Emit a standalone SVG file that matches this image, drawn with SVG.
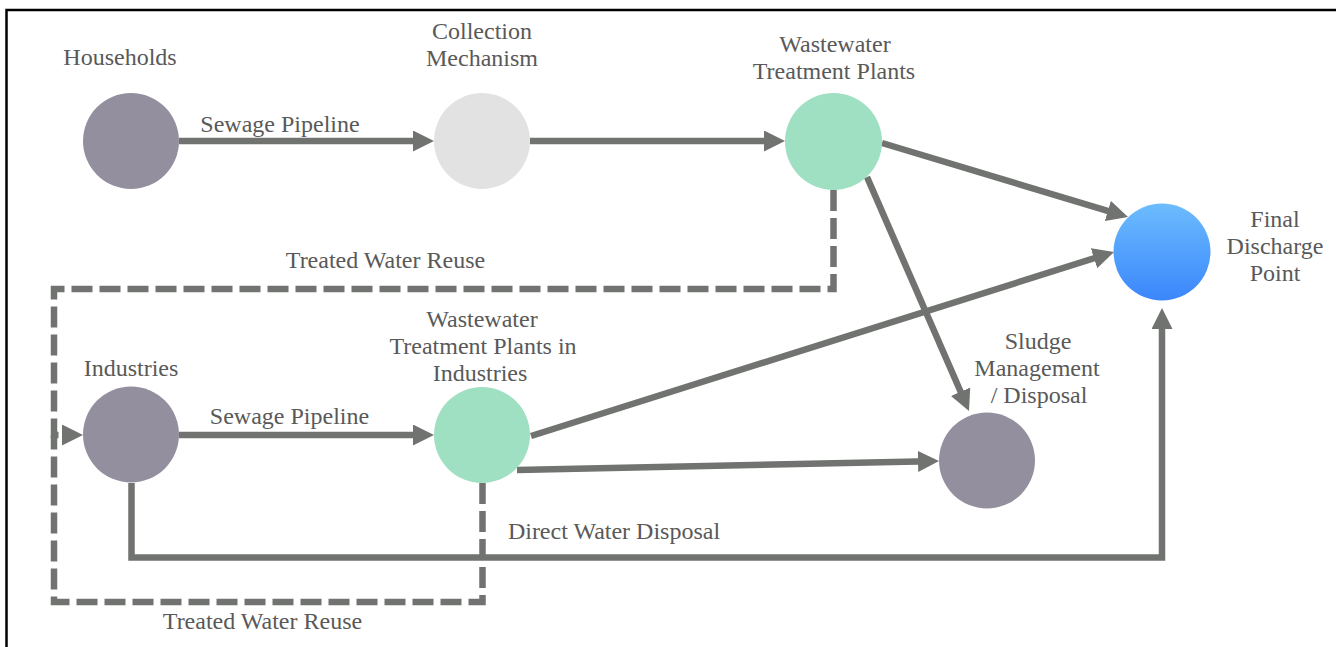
<svg xmlns="http://www.w3.org/2000/svg" width="1336" height="647" viewBox="0 0 1336 647">
<style>
  .lbl { font-family: "Liberation Serif", "Times New Roman", serif; font-size: 24px; fill: #595959; text-anchor: middle; }
  .edge { fill: none; stroke: #717370; stroke-width: 6.5; }
  .dash { fill: none; stroke: #717370; stroke-width: 6.5; stroke-dasharray: 21 7; }
  .purple { fill: #938f9e; }
  .grey { fill: #e2e2e2; }
  .green { fill: #9fe0c2; }
</style>
<defs>
  <marker id="arrow" markerUnits="userSpaceOnUse" markerWidth="22" markerHeight="22" viewBox="0 0 22 22" refX="11" refY="10.5" orient="auto">
    <path d="M0,0 L21,10.5 L0,21 Z" fill="#717370"/>
  </marker>
  <linearGradient id="blueGrad" x1="0" y1="0" x2="0" y2="1">
    <stop offset="0" stop-color="#6cbcfd"/>
    <stop offset="1" stop-color="#3a86fc"/>
  </linearGradient>
</defs>
<rect width="1336" height="647" fill="#ffffff"/>
<rect x="6.5" y="10" width="1400" height="700" fill="none" stroke="#000000" stroke-width="2.5"/>

<g id="connectors">
  <path class="dash" d="M833.5,190 V289 H54 V435 H73" marker-end="url(#arrow)"/>
  <path class="dash" d="M482.5,483 V602 H54 V435"/>
  <path class="edge" d="M179,141 H424" marker-end="url(#arrow)"/>
  <path class="edge" d="M530,141 H775" marker-end="url(#arrow)"/>
  <path class="edge" d="M882,143 L1118.4,214.1" marker-end="url(#arrow)"/>
  <path class="edge" d="M867,177 L965,401.8" marker-end="url(#arrow)"/>
  <path class="edge" d="M531,436 L1104.5,255" marker-end="url(#arrow)"/>
  <path class="edge" d="M517,470 L929,461.2" marker-end="url(#arrow)"/>
  <path class="edge" d="M179,435 H424" marker-end="url(#arrow)"/>
  <path class="edge" d="M131.5,483 V557.5 H1162 V318" marker-end="url(#arrow)"/>
  <text class="lbl" x="280" y="132">Sewage Pipeline</text>
  <text class="lbl" x="289.5" y="424">Sewage Pipeline</text>
  <text class="lbl" x="385.5" y="268">Treated Water Reuse</text>
  <text class="lbl" x="262.5" y="629">Treated Water Reuse</text>
  <text class="lbl" x="614" y="539">Direct Water Disposal</text>
</g>

<g id="households">
  <circle class="purple" cx="131" cy="141" r="48"/>
  <text class="lbl" x="120" y="65">Households</text>
</g>
<g id="collection">
  <circle class="grey" cx="482" cy="141" r="48"/>
  <text class="lbl" x="482" y="39">Collection</text>
  <text class="lbl" x="482" y="66">Mechanism</text>
</g>
<g id="wwtp">
  <circle class="green" cx="833.5" cy="141.5" r="48.5"/>
  <text class="lbl" x="835" y="52">Wastewater</text>
  <text class="lbl" x="834" y="79">Treatment Plants</text>
</g>
<g id="final">
  <circle fill="url(#blueGrad)" cx="1162" cy="252" r="48.5"/>
  <text class="lbl" x="1275" y="227">Final</text>
  <text class="lbl" x="1275" y="254">Discharge</text>
  <text class="lbl" x="1275" y="281">Point</text>
</g>
<g id="industries">
  <circle class="purple" cx="131" cy="434.5" r="48"/>
  <text class="lbl" x="131" y="376">Industries</text>
</g>
<g id="wwtp-industries">
  <circle class="green" cx="482" cy="435" r="48"/>
  <text class="lbl" x="482" y="327">Wastewater</text>
  <text class="lbl" x="483" y="354">Treatment Plants in</text>
  <text class="lbl" x="480" y="381">Industries</text>
</g>
<g id="sludge">
  <circle class="purple" cx="987" cy="460.5" r="48"/>
  <text class="lbl" x="1038" y="349">Sludge</text>
  <text class="lbl" x="1037" y="376">Management</text>
  <text class="lbl" x="1039" y="403">/ Disposal</text>
</g>
</svg>
